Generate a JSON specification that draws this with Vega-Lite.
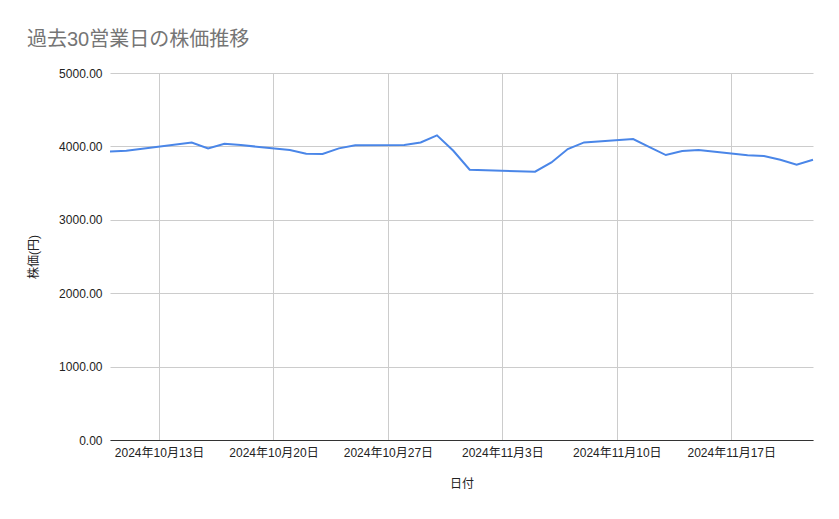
{
  "$schema": "https://vega.github.io/schema/vega-lite/v6.json",
  "autosize": "none",
  "width": 703,
  "height": 367,
  "padding": {"left": 110, "top": 73, "right": 26, "bottom": 79},
  "background": "white",
  "title": {
    "text": "過去30営業日の株価推移",
    "anchor": "start",
    "frame": "group",
    "dx": -83,
    "offset": 17,
    "fontSize": 20,
    "fontWeight": "normal",
    "color": "#757575",
    "font": "Liberation Sans, Noto Sans CJK JP"
  },
  "data": {
    "values": [
      {"date": "2024-10-10", "price": 3932},
      {"date": "2024-10-11", "price": 3941},
      {"date": "2024-10-15", "price": 4054},
      {"date": "2024-10-16", "price": 3973},
      {"date": "2024-10-17", "price": 4036},
      {"date": "2024-10-18", "price": 4018},
      {"date": "2024-10-21", "price": 3950},
      {"date": "2024-10-22", "price": 3900},
      {"date": "2024-10-23", "price": 3896},
      {"date": "2024-10-24", "price": 3973},
      {"date": "2024-10-25", "price": 4014},
      {"date": "2024-10-28", "price": 4020},
      {"date": "2024-10-29", "price": 4054},
      {"date": "2024-10-30", "price": 4150},
      {"date": "2024-10-31", "price": 3940},
      {"date": "2024-11-01", "price": 3682},
      {"date": "2024-11-05", "price": 3655},
      {"date": "2024-11-06", "price": 3782},
      {"date": "2024-11-07", "price": 3964},
      {"date": "2024-11-08", "price": 4054},
      {"date": "2024-11-11", "price": 4100},
      {"date": "2024-11-12", "price": 3991},
      {"date": "2024-11-13", "price": 3882},
      {"date": "2024-11-14", "price": 3936},
      {"date": "2024-11-15", "price": 3950},
      {"date": "2024-11-18", "price": 3880},
      {"date": "2024-11-19", "price": 3868},
      {"date": "2024-11-20", "price": 3818},
      {"date": "2024-11-21", "price": 3750},
      {"date": "2024-11-22", "price": 3818}
    ]
  },
  "mark": {"type": "line", "color": "#4a86e8", "strokeWidth": 2},
  "encoding": {
    "x": {
      "field": "date",
      "type": "temporal",
      "title": "日付",
      "scale": {
        "type": "utc",
        "domain": [
          {"year": 2024, "month": 10, "date": 10, "utc": true},
          {"year": 2024, "month": 11, "date": 22, "utc": true}
        ]
      },
      "axis": {
        "values": [
          {"year": 2024, "month": 10, "date": 13, "utc": true},
          {"year": 2024, "month": 10, "date": 20, "utc": true},
          {"year": 2024, "month": 10, "date": 27, "utc": true},
          {"year": 2024, "month": 11, "date": 3, "utc": true},
          {"year": 2024, "month": 11, "date": 10, "utc": true},
          {"year": 2024, "month": 11, "date": 17, "utc": true}
        ],
        "format": "%Y年%-m月%-d日",
        "labelPadding": 7,
        "titlePadding": 20,
        "domainColor": "#333333"
      }
    },
    "y": {
      "field": "price",
      "type": "quantitative",
      "title": "株価(円)",
      "scale": {"domain": [0, 5000]},
      "axis": {
        "values": [0, 1000, 2000, 3000, 4000, 5000],
        "format": ".2f",
        "domain": false,
        "labelPadding": 8,
        "titlePadding": 18
      }
    }
  },
  "config": {
    "view": {"stroke": null},
    "axis": {
      "labelFont": "Liberation Sans, Noto Sans CJK JP",
      "titleFont": "Liberation Sans, Noto Sans CJK JP",
      "labelFontSize": 12,
      "labelColor": "#222222",
      "titleFontSize": 12,
      "titleFontWeight": "normal",
      "titleColor": "#222222",
      "ticks": false,
      "gridColor": "#cccccc",
      "gridOpacity": 1,
      "labelOverlap": false,
      "labelFlush": false
    }
  }
}
